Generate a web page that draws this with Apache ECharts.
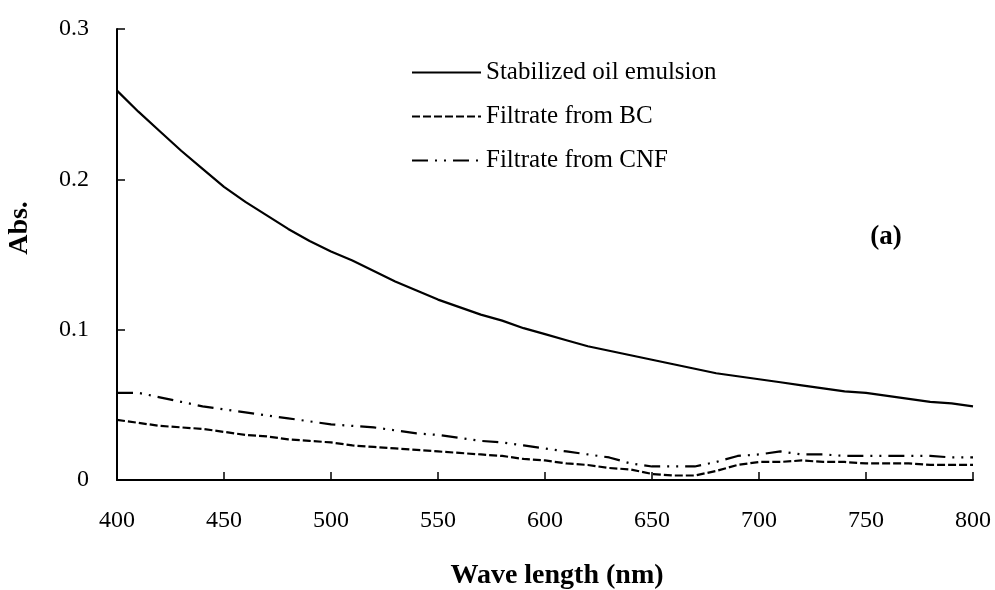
<!DOCTYPE html>
<html><head><meta charset="utf-8">
<script src="https://cdn.jsdelivr.net/npm/echarts@6/dist/echarts.min.js"></script>
<style>html,body{margin:0;padding:0;background:#fff}#c{width:995px;height:590px}</style>
</head><body><div id="c"></div>
<script>
const wavelengths = [400,410,420,430,440,450,460,470,480,490,500,510,520,530,540,550,560,570,580,590,600,610,620,630,640,650,660,670,680,690,700,710,720,730,740,750,760,770,780,790,800];
const stabilizedOil = [0.259,0.245,0.232,0.219,0.207,0.195,0.185,0.176,0.167,0.159,0.152,0.146,0.139,0.132,0.126,0.120,0.115,0.110,0.106,0.101,0.097,0.093,0.089,0.086,0.083,0.080,0.077,0.074,0.071,0.069,0.067,0.065,0.063,0.061,0.059,0.058,0.056,0.054,0.052,0.051,0.049];
const filtrateBC = [0.040,0.038,0.036,0.035,0.034,0.032,0.030,0.029,0.027,0.026,0.025,0.023,0.022,0.021,0.020,0.019,0.018,0.017,0.016,0.014,0.013,0.011,0.010,0.008,0.007,0.004,0.003,0.003,0.006,0.010,0.012,0.012,0.013,0.012,0.012,0.011,0.011,0.011,0.010,0.010,0.010];
const filtrateCNF = [0.058,0.058,0.055,0.052,0.049,0.047,0.045,0.043,0.041,0.039,0.037,0.036,0.035,0.033,0.031,0.030,0.028,0.026,0.025,0.023,0.021,0.019,0.017,0.015,0.011,0.009,0.009,0.009,0.012,0.016,0.017,0.019,0.017,0.017,0.016,0.016,0.016,0.016,0.016,0.015,0.015];
const seriesNames = ['Stabilized oil emulsion','Filtrate from BC','Filtrate from CNF'];
const yTicks = [0,0.1,0.2,0.3];
const xTitle = 'Wave length (nm)';
const yTitle = 'Abs.';
const panelLabel = '(a)';

const font = 'Liberation Serif';
const pair = arr => wavelengths.map((w,i)=>[w,arr[i]]);
const chart = echarts.init(document.getElementById('c'));
chart.setOption({
  animation:false,
  grid:{left:117,right:22,top:29,bottom:110,outerBoundsMode:'none',containLabel:false},
  legend:{
    left:406, top:55, orient:'vertical', itemWidth:69, itemHeight:14, itemGap:19,
    itemStyle:{opacity:0},
    textStyle:{fontFamily:font,fontSize:25,color:'#000'},
    data:seriesNames
  },
  xAxis:{
    type:'value', min:400, max:800, interval:50,
    axisLine:{lineStyle:{color:'#000',width:2}},
    axisTick:{inside:true,length:8,lineStyle:{color:'#000',width:1.5}},
    axisLabel:{fontFamily:font,fontSize:24,color:'#000',margin:29},
    splitLine:{show:false}
  },
  yAxis:{
    type:'value', min:0, max:0.3, interval:0.1,
    axisLine:{lineStyle:{color:'#000',width:2}},
    axisTick:{inside:true,length:8,lineStyle:{color:'#000',width:1.5}},
    axisLabel:{fontFamily:font,fontSize:24,color:'#000',margin:28,formatter:v=>String(yTicks.find(t=>Math.abs(t-v)<1e-9) ?? v)},
    splitLine:{show:false}
  },
  graphic:[
    {type:'text',x:20,y:228,rotation:Math.PI/2,style:{text:yTitle,font:'bold 28px "Liberation Serif"',fill:'#000',align:'center',verticalAlign:'middle'}},
    {type:'text',x:557,y:576,style:{text:xTitle,font:'bold 28px "Liberation Serif"',fill:'#000',align:'center',verticalAlign:'middle'}},
    {type:'text',x:886,y:237,style:{text:panelLabel,font:'bold 27px "Liberation Serif"',fill:'#000',align:'center',verticalAlign:'middle'}}
  ],
  series:[
    {name:seriesNames[0],type:'line',symbol:'none',data:pair(stabilizedOil),lineStyle:{color:'#000',width:2.2,type:'solid'},itemStyle:{color:'#000'}},
    {name:seriesNames[1],type:'line',symbol:'none',data:pair(filtrateBC),lineStyle:{color:'#000',width:2.2,type:[8,3]},itemStyle:{color:'#000'}},
    {name:seriesNames[2],type:'line',symbol:'none',data:pair(filtrateCNF),lineStyle:{color:'#000',width:2.2,type:[16,7,2,7,2,7]},itemStyle:{color:'#000'}}
  ]
});
</script></body></html>
